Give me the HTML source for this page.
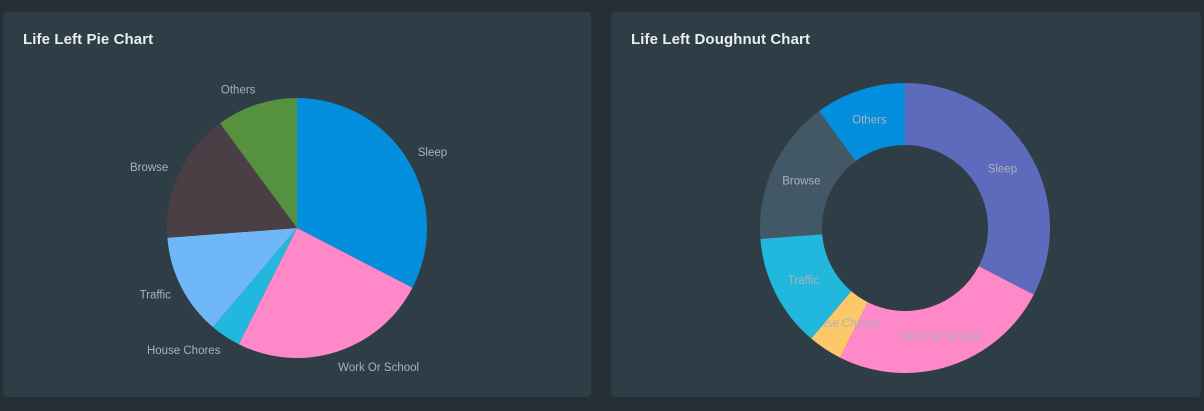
<!DOCTYPE html>
<html><head><meta charset="utf-8"><style>
body{margin:0;width:1204px;height:411px;background:#243036;font-family:"Liberation Sans",sans-serif;overflow:hidden;position:relative}
.card{position:absolute;top:12px;width:588px;height:385px;background:#2e3d46;border-radius:4px}
.title{position:absolute;left:20px;top:19px;font-size:15px;font-weight:bold;color:#e9eef1;letter-spacing:0.1px}
svg{position:absolute;left:0;top:0}
</style></head><body>
<div class="card" style="left:3px">
<div class="title">Life Left Pie Chart</div>
<svg id="pie" width="588" height="385"></svg></div>
<div class="card" style="left:611px;width:590px">
<div class="title">Life Left Doughnut Chart</div>
<svg id="dough" width="590" height="385"></svg></div>
<script>
const categories=["Sleep","Work Or School","House Chores","Traffic","Browse","Others"];
const values=[32.6,24.8,3.8,12.6,16.1,10.1];
const pieColors=["#038fde","#ff89c8","#22b8dd","#6fb7f6","#4a3f44","#569140"];
const doughColors=["#5e6bbc","#ff89c8","#fdc86a","#22b8dd","#435866","#038fde"];
const NS="http://www.w3.org/2000/svg";
function pt(cx,cy,r,a){return [cx+r*Math.sin(a),cy-r*Math.cos(a)];}
function draw(svg,cx,cy,R,r0,colors,outside){
 const tot=values.reduce((a,b)=>a+b,0);let a=0;
 values.forEach((v,i)=>{
  const a1=a+v/tot*2*Math.PI,large=(a1-a)>Math.PI?1:0;
  const p0=pt(cx,cy,R,a),p1=pt(cx,cy,R,a1);
  let d;
  if(r0>0){const q0=pt(cx,cy,r0,a1),q1=pt(cx,cy,r0,a);
   d=`M${p0}A${R},${R} 0 ${large} 1 ${p1}L${q0}A${r0},${r0} 0 ${large} 0 ${q1}Z`;}
  else d=`M${cx},${cy}L${p0}A${R},${R} 0 ${large} 1 ${p1}Z`;
  const p=document.createElementNS(NS,"path");p.setAttribute("d",d);p.setAttribute("fill",colors[i]);
  
  
  svg.appendChild(p);
  const m=(a+a1)/2;
  const lr=outside?R+16:(R+r0)/2;
  const lp=pt(cx,cy,lr,m);
  const t=document.createElementNS(NS,"text");
  t.setAttribute("x",lp[0]+(outside?(Math.sin(m)>0.3?-4:(Math.sin(m)<-0.3?4:0)):0));t.setAttribute("y",lp[1]+4);t.setAttribute("font-size","11.5");
  t.setAttribute("fill","#a9b2b8");
  t.setAttribute("text-anchor",outside?(Math.sin(m)>0.3?"start":(Math.sin(m)<-0.3?"end":"middle")):"middle");
  t.textContent=categories[i];
  
  
  svg.appendChild(t);
  a=a1;});
}
draw(document.getElementById("pie"),294,216,130,0,pieColors,true);
draw(document.getElementById("dough"),294,216,145,83,doughColors,false);
</script>
</body></html>
